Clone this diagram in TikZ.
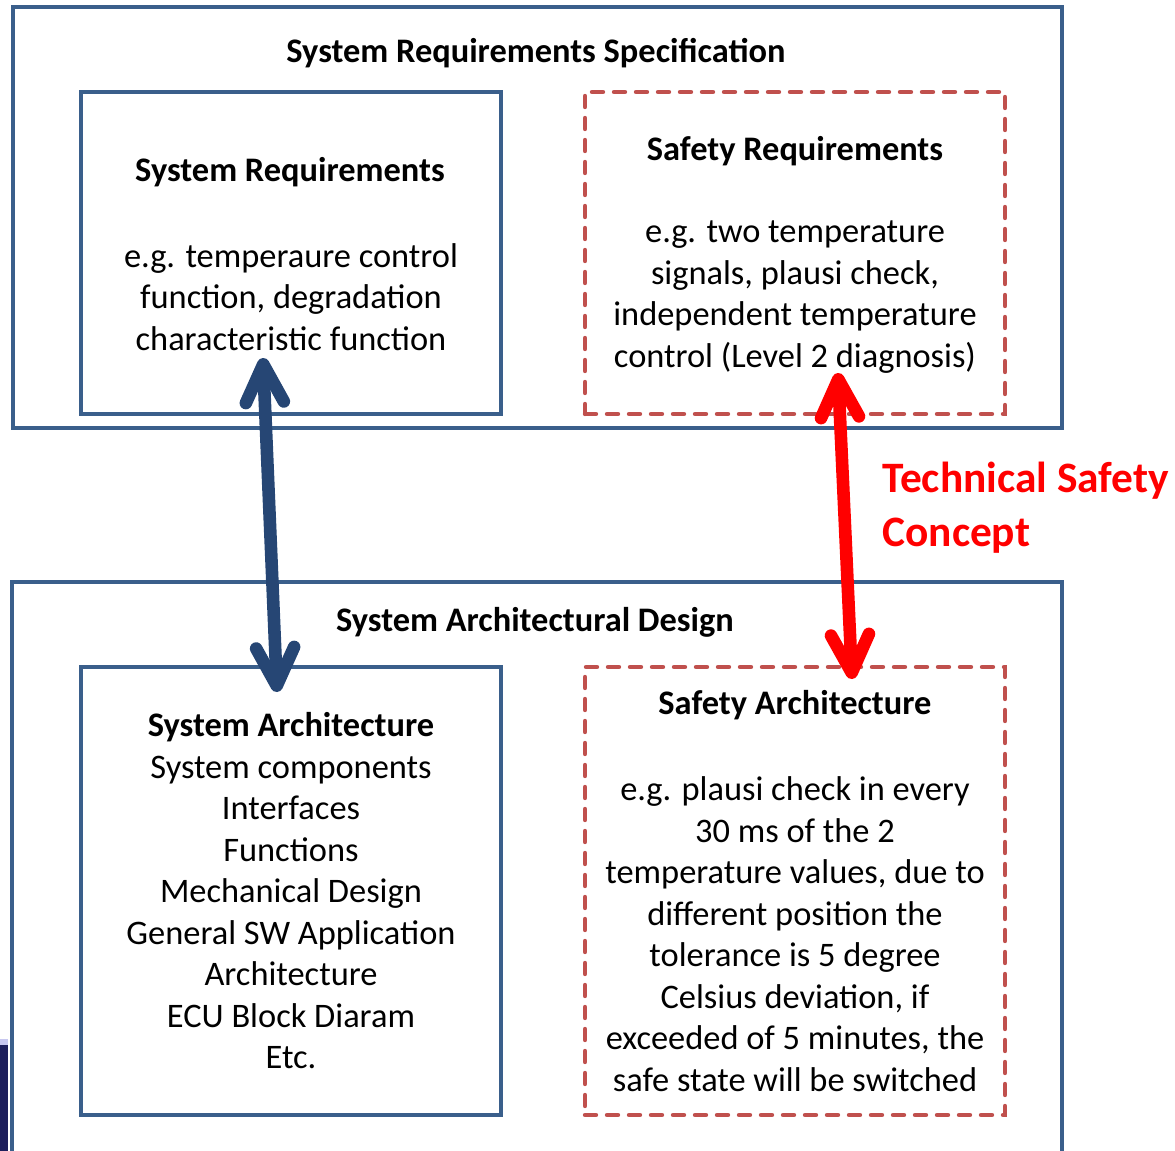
\documentclass[tikz,border=0pt]{standalone}
\usepackage{fontspec}
\setmainfont{Carlito}
\usetikzlibrary{arrows.meta}
\definecolor{frameblue}{HTML}{3A5F8B}
\definecolor{arrowblue}{HTML}{264674}
\definecolor{safetyred}{HTML}{C0504D}
\definecolor{conceptred}{HTML}{FF0000}
\definecolor{slidenavy}{HTML}{1E1F5C}
\definecolor{slidelavender}{HTML}{C8C8F0}
\begin{document}
\begin{tikzpicture}[x=0.5pt,y=-0.5pt,
  frame/.style={draw=frameblue,line width=2.2pt,inner sep=0pt},
  safetybox/.style={draw=safetyred,line width=2.2pt,dash pattern=on 5.5pt off 5.5pt,line cap=round,inner sep=0pt},
  txt/.style={align=center,inner sep=0pt,font=\fontsize{17.2pt}{20.75pt}\selectfont},
  head/.style={txt,font=\fontsize{17.2pt}{20.75pt}\selectfont\bfseries},
  link/.style={line width=6.3pt,{Straight Barb[length=19pt,width=19pt,round]}-{Straight Barb[length=19pt,width=19pt,round]}}
]
\useasboundingbox (0,0) rectangle (1175,1151);

% slide edge in the lower left corner
\fill[slidelavender] (0,1039) rectangle (8,1045);
\fill[slidenavy] (0,1045) rectangle (8,1151);

% outer frames
\node[frame,minimum width=524.5pt,minimum height=210.5pt] (srs) at (537.5,217.5) {};
\coordinate (sadBL) at (12,1151);
\coordinate (sadTL) at (12,582);
\coordinate (sadTR) at (1062,582);
\coordinate (sadBR) at (1062,1151);
\draw[frame] (sadBL) -- (sadTL) -- (sadTR) -- (sadBR);

% inner boxes
\node[frame,minimum width=210pt,minimum height=161pt] (sysreq) at (291,253) {};
\node[safetybox,minimum width=210pt,minimum height=161pt] (safreq) at (795,253) {};
\node[frame,minimum width=210pt,minimum height=224pt] (sysarch) at (291,891) {};
\node[safetybox,minimum width=210pt,minimum height=224pt] (safarch) at (795,891) {};

% titles and texts
\node[head] (srsTitle) at (536,53) {System Requirements Specification};
\node[head] (sysreqTitle) at (290,172) {System Requirements};
\node[txt] (sysreqText) at (291,297) {e.g. temperaure control\\function, degradation\\characteristic function};
\node[head] (safreqTitle) at (795,151) {Safety Requirements};
\node[txt] (safreqText) at (795,297) {e.g. two temperature\\signals, plausi check,\\independent temperature\\control (Level 2 diagnosis)};
\node[head] (sadTitle) at (535,622) {System Architectural Design};
\node[txt] (sysarchText) at (291,891) {\textbf{System Architecture}\\System components\\Interfaces\\Functions\\Mechanical Design\\General SW Application\\Architecture\\ECU Block Diaram\\Etc.};
\node[head] (safarchTitle) at (795,705) {Safety Architecture};
\node[txt] (safarchText) at (795,934) {e.g. plausi check in every\\30 ms of the 2\\temperature values, due to\\different position the\\tolerance is 5 degree\\Celsius deviation, if\\exceeded of 5 minutes, the\\safe state will be switched};
\node[align=left,inner sep=0pt,anchor=west,text=conceptred,font=\fontsize{21.7pt}{27pt}\selectfont\bfseries] (tsc) at (882,508) {Technical Safety\\Concept};

% links between requirement and architecture levels
\coordinate (sysTop) at (263,358);
\coordinate (sysBot) at (277,692);
\coordinate (safTop) at (838,373);
\coordinate (safBot) at (852,679);
\draw[link,draw=arrowblue] (sysTop) -- (sysBot);
\draw[link,draw=conceptred] (safTop) -- (safBot);
\end{tikzpicture}
\end{document}
